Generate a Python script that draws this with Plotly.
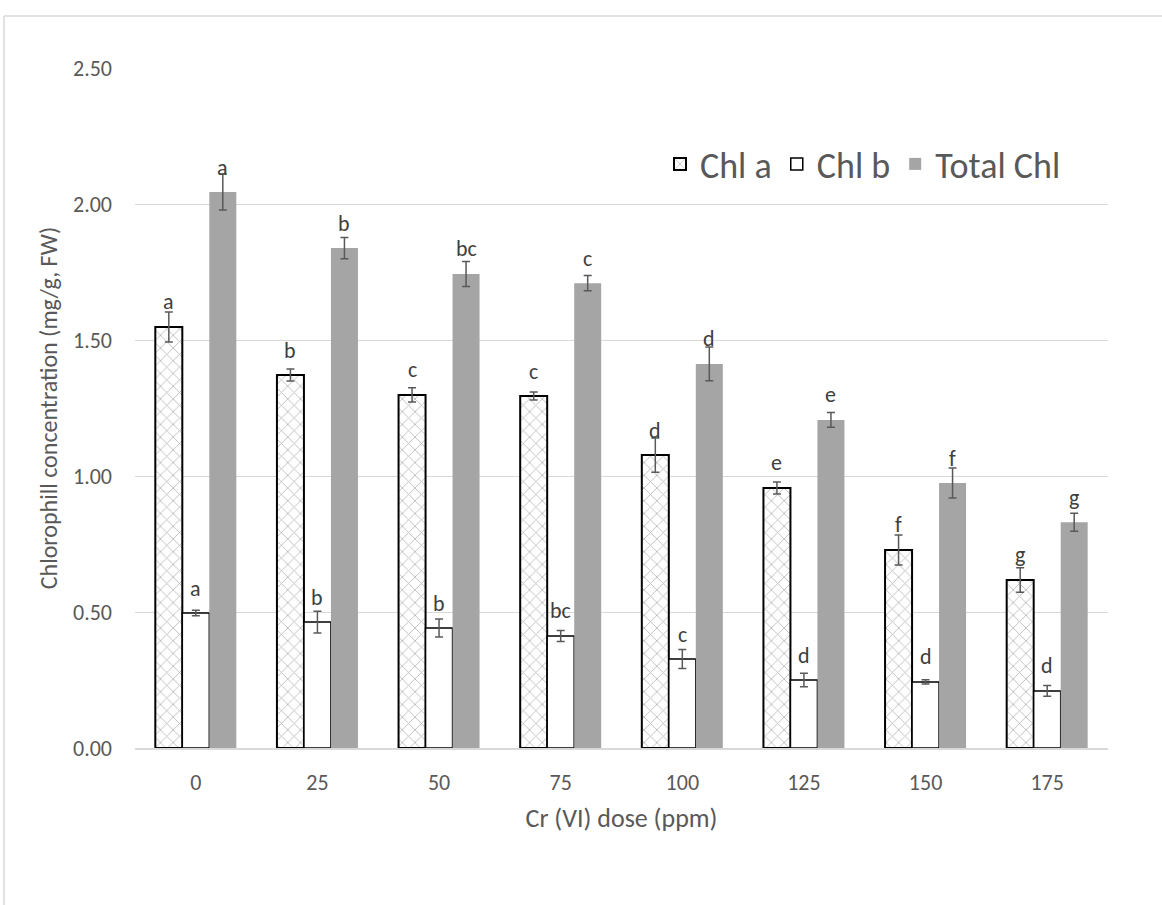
import plotly.graph_objects as go

# Cr(VI) dose groups
doses = ["0", "25", "50", "75", "100", "125", "150", "175"]

# Mean chlorophyll content (mg/g FW)
chl_a = [1.548, 1.371, 1.298, 1.294, 1.077, 0.956, 0.728, 0.618]
chl_b = [0.496, 0.463, 0.441, 0.412, 0.327, 0.250, 0.243, 0.210]
total_chl = [2.044, 1.838, 1.743, 1.709, 1.412, 1.206, 0.974, 0.830]

# Standard errors
chl_a_err = [0.055, 0.022, 0.026, 0.015, 0.063, 0.022, 0.055, 0.045]
chl_b_err = [0.010, 0.040, 0.033, 0.020, 0.035, 0.025, 0.008, 0.020]
total_err = [0.066, 0.039, 0.046, 0.028, 0.062, 0.027, 0.055, 0.033]

# Significance letters
chl_a_sig = ["a", "b", "c", "c", "d", "e", "f", "g"]
chl_b_sig = ["a", "b", "b", "bc", "c", "d", "d", "d"]
total_sig = ["a", "b", "bc", "c", "d", "e", "f", "g"]

FONT = "Carlito, Calibri, 'Open Sans', sans-serif"
W, H = 1162, 905
ML, MR, MT, MB = 135, 54, 68, 157

err_style = dict(type="data", visible=True, color="#595959", thickness=1.5, width=4)

fig = go.Figure()
fig.add_trace(go.Bar(
    name="Chl a", x=doses, y=chl_a,
    error_y=dict(array=chl_a_err, **err_style),
    marker=dict(color="white", line=dict(color="black", width=2),
                pattern=dict(shape="x", fgcolor="#7f7f7f", bgcolor="white",
                             size=9, solidity=0.2)),
))
fig.add_trace(go.Bar(
    name="Chl b", x=doses, y=chl_b,
    error_y=dict(array=chl_b_err, **err_style),
    marker=dict(color="white", line=dict(color="black", width=1.5)),
))
fig.add_trace(go.Bar(
    name="Total Chl", x=doses, y=total_chl,
    error_y=dict(array=total_err, **err_style),
    marker=dict(color="#a5a5a5", line=dict(width=0)),
))

# letters above each bar (offset by series within the group)
n_series = 3
offsets = [-1, 0, 1]
group_w = 1 - 0.334
for s, (vals, sig) in enumerate([(chl_a, chl_a_sig), (chl_b, chl_b_sig), (total_chl, total_sig)]):
    for i, (v, t) in enumerate(zip(vals, sig)):
        fig.add_annotation(
            x=i + offsets[s] * group_w / n_series, y=v, xref="x", yref="y",
            text=t, showarrow=False, yanchor="middle", yshift=25,
            font=dict(family=FONT, size=22, color="#404040"),
        )

# light outer frame (top and left edges)
pw, ph = W - ML - MR, H - MT - MB
def px_x(p):
    return (p - ML) / pw
def px_y(p):
    return (H - MB - p) / ph
frame = dict(type="line", xref="paper", yref="paper", line=dict(color="#d9d9d9", width=1.5))
fig.add_shape(x0=px_x(4), x1=px_x(1162), y0=px_y(16), y1=px_y(16), **frame)
fig.add_shape(x0=px_x(4), x1=px_x(4), y0=px_y(16), y1=px_y(905), **frame)

fig.update_layout(
    width=W, height=H,
    margin=dict(l=ML, r=MR, t=MT, b=MB),
    paper_bgcolor="white", plot_bgcolor="white",
    barmode="group", bargap=0.334, bargroupgap=0,
    font=dict(family=FONT, color="#595959"),
    showlegend=True,
    legend=dict(orientation="h", x=px_x(1066), xanchor="right", y=px_y(164),
                yanchor="middle", font=dict(family=FONT, size=36, color="#595959"),
                bgcolor="rgba(0,0,0,0)", itemwidth=30, traceorder="normal"),
    xaxis=dict(
        type="category", showgrid=False, showline=True, linecolor="#d9d9d9", linewidth=1.5,
        ticks="", tickfont=dict(family=FONT, size=22, color="#595959"),
        ticklabelstandoff=14,
        title=dict(text="Cr (VI) dose (ppm)", standoff=14,
                   font=dict(family=FONT, size=26, color="#595959")),
    ),
    yaxis=dict(
        range=[0, 2.5], tickvals=[0, 0.5, 1.0, 1.5, 2.0, 2.5], tickformat=".2f",
        showgrid=True, gridcolor="#d9d9d9", gridwidth=1, zeroline=False,
        showline=False, ticks="", tickfont=dict(family=FONT, size=22, color="#595959"),
        ticklabelstandoff=22,
        title=dict(text="Chlorophill concentration (mg/g, FW)", standoff=8,
                   font=dict(family=FONT, size=24, color="#595959")),
    ),
)

fig.write_html("out.html")
